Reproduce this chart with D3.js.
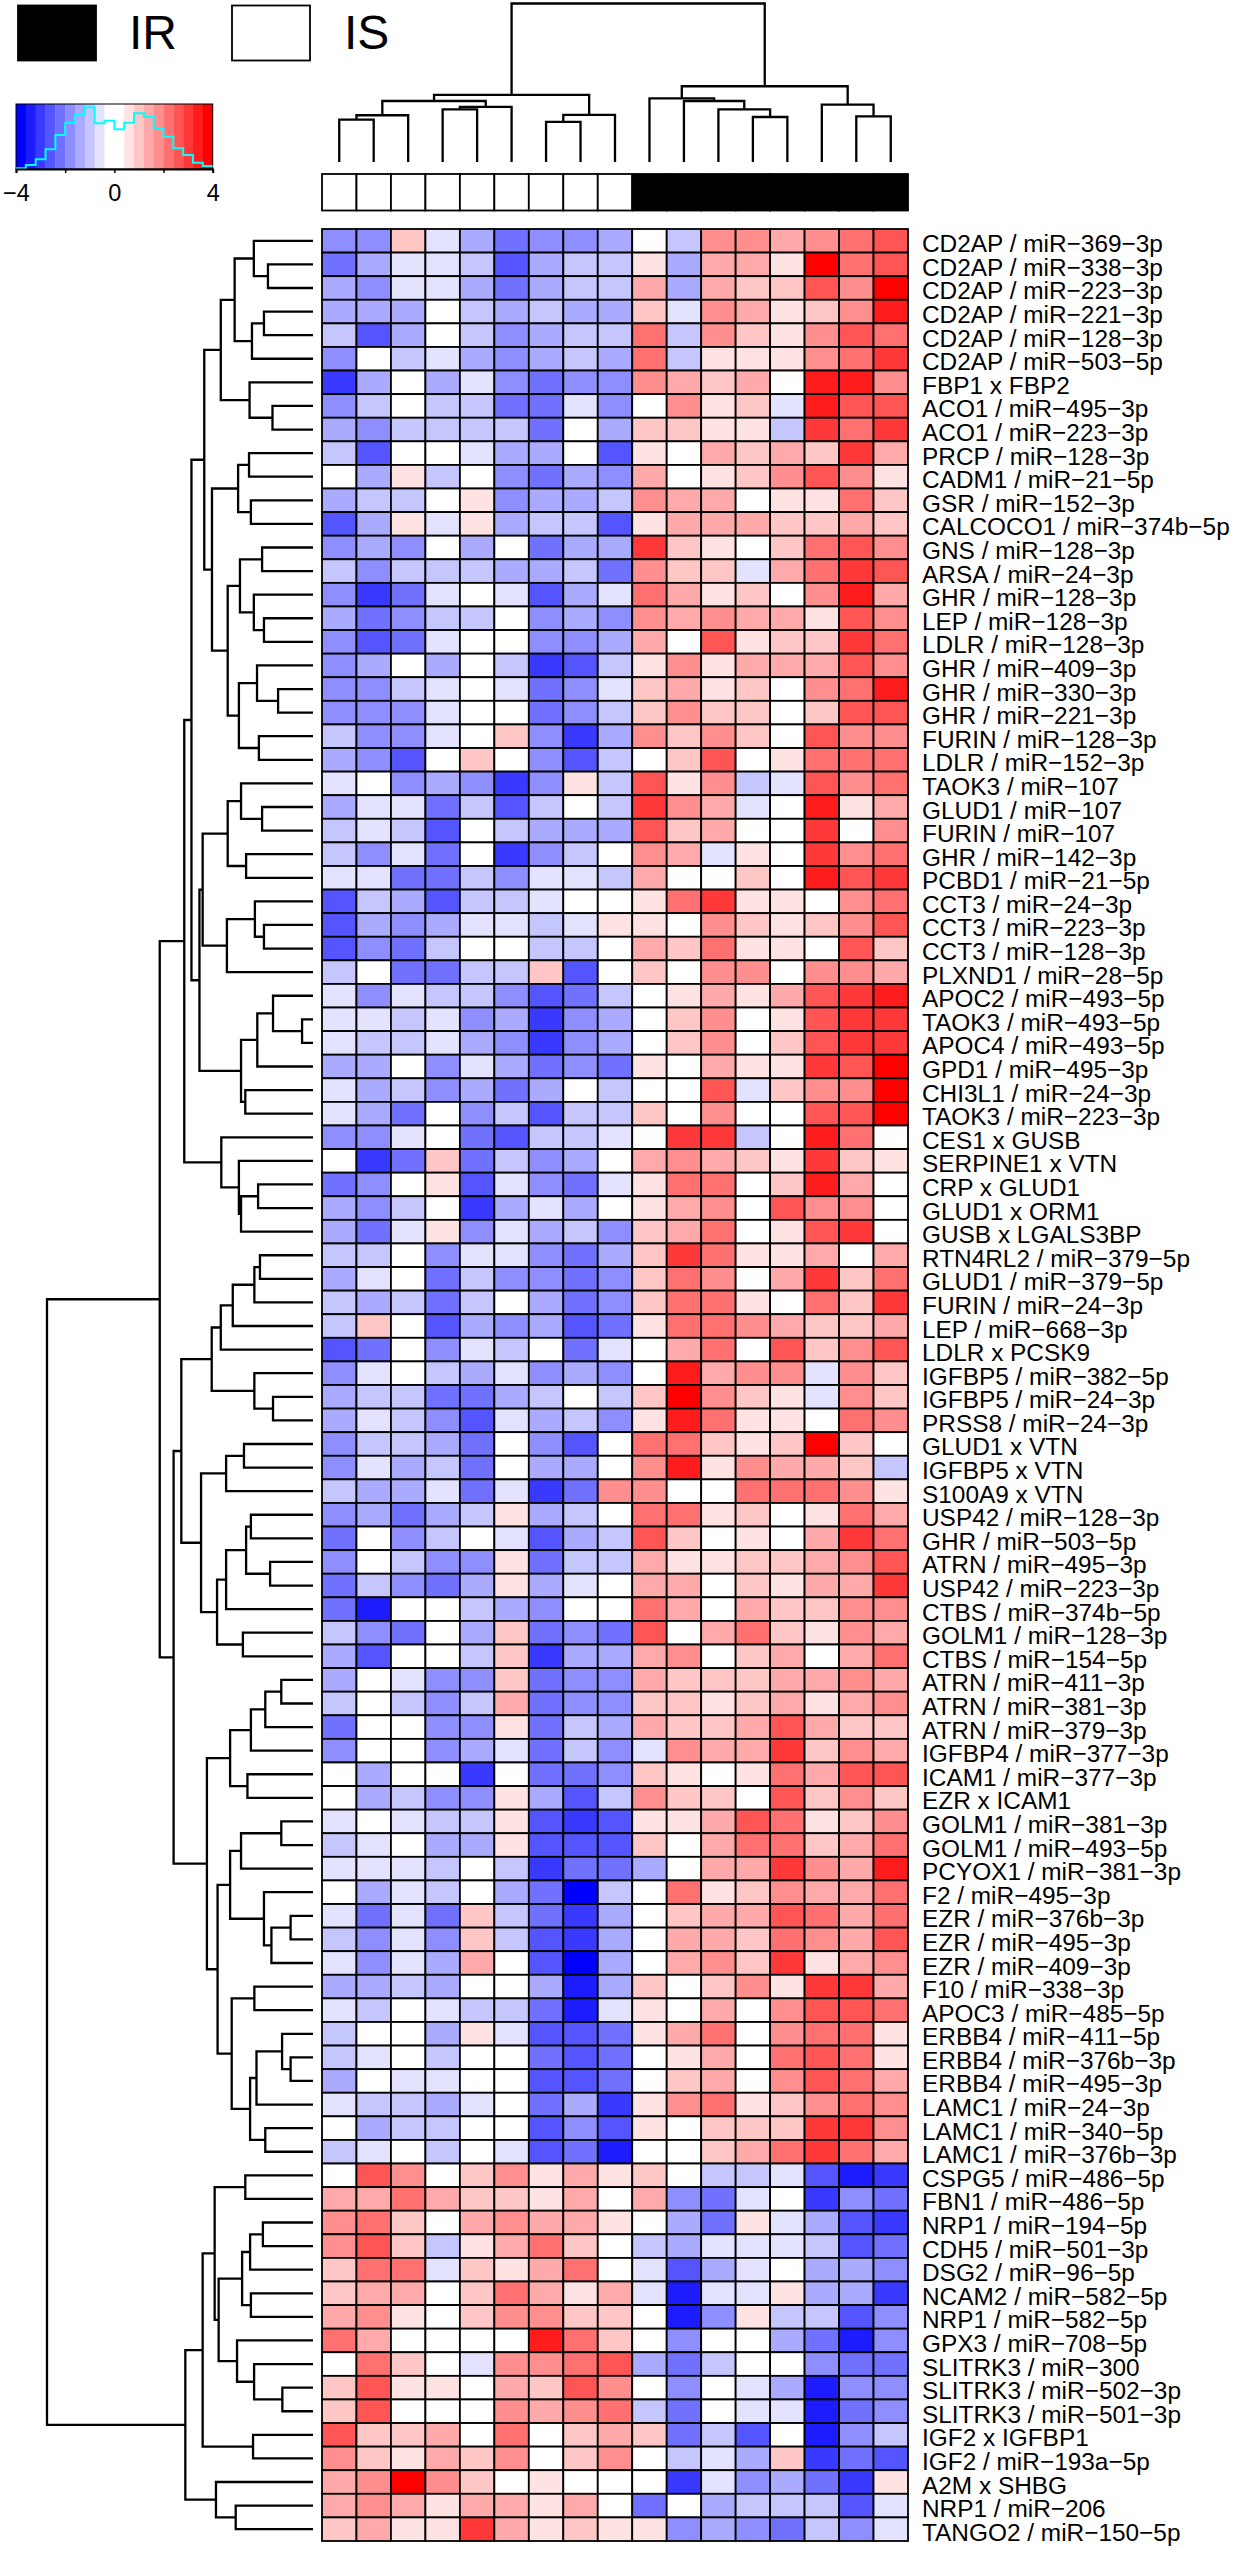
<!DOCTYPE html>
<html>
<head>
<meta charset="utf-8">
<script src="https://cdn.jsdelivr.net/npm/d3@7"></script>
<style>
  body { margin: 0; background: #fff; }
  text { font-family: "Liberation Sans", Arial, sans-serif; fill: #000; }
</style>
</head>
<body>
<svg id="chart" width="1234" height="2550"></svg>
<script>
// Row labels, top to bottom
const rowLabels = [
  "CD2AP / miR-369-3p", "CD2AP / miR-338-3p", "CD2AP / miR-223-3p", "CD2AP / miR-221-3p", "CD2AP / miR-128-3p",
  "CD2AP / miR-503-5p", "FBP1 x FBP2", "ACO1 / miR-495-3p", "ACO1 / miR-223-3p", "PRCP / miR-128-3p",
  "CADM1 / miR-21-5p", "GSR / miR-152-3p", "CALCOCO1 / miR-374b-5p", "GNS / miR-128-3p", "ARSA / miR-24-3p",
  "GHR / miR-128-3p", "LEP / miR-128-3p", "LDLR / miR-128-3p", "GHR / miR-409-3p", "GHR / miR-330-3p",
  "GHR / miR-221-3p", "FURIN / miR-128-3p", "LDLR / miR-152-3p", "TAOK3 / miR-107", "GLUD1 / miR-107",
  "FURIN / miR-107", "GHR / miR-142-3p", "PCBD1 / miR-21-5p", "CCT3 / miR-24-3p", "CCT3 / miR-223-3p",
  "CCT3 / miR-128-3p", "PLXND1 / miR-28-5p", "APOC2 / miR-493-5p", "TAOK3 / miR-493-5p", "APOC4 / miR-493-5p",
  "GPD1 / miR-495-3p", "CHI3L1 / miR-24-3p", "TAOK3 / miR-223-3p", "CES1 x GUSB", "SERPINE1 x VTN",
  "CRP x GLUD1", "GLUD1 x ORM1", "GUSB x LGALS3BP", "RTN4RL2 / miR-379-5p", "GLUD1 / miR-379-5p",
  "FURIN / miR-24-3p", "LEP / miR-668-3p", "LDLR x PCSK9", "IGFBP5 / miR-382-5p", "IGFBP5 / miR-24-3p",
  "PRSS8 / miR-24-3p", "GLUD1 x VTN", "IGFBP5 x VTN", "S100A9 x VTN", "USP42 / miR-128-3p",
  "GHR / miR-503-5p", "ATRN / miR-495-3p", "USP42 / miR-223-3p", "CTBS / miR-374b-5p", "GOLM1 / miR-128-3p",
  "CTBS / miR-154-5p", "ATRN / miR-411-3p", "ATRN / miR-381-3p", "ATRN / miR-379-3p", "IGFBP4 / miR-377-3p",
  "ICAM1 / miR-377-3p", "EZR x ICAM1", "GOLM1 / miR-381-3p", "GOLM1 / miR-493-5p", "PCYOX1 / miR-381-3p",
  "F2 / miR-495-3p", "EZR / miR-376b-3p", "EZR / miR-495-3p", "EZR / miR-409-3p", "F10 / miR-338-3p",
  "APOC3 / miR-485-5p", "ERBB4 / miR-411-5p", "ERBB4 / miR-376b-3p", "ERBB4 / miR-495-3p", "LAMC1 / miR-24-3p",
  "LAMC1 / miR-340-5p", "LAMC1 / miR-376b-3p", "CSPG5 / miR-486-5p", "FBN1 / miR-486-5p", "NRP1 / miR-194-5p",
  "CDH5 / miR-501-3p", "DSG2 / miR-96-5p", "NCAM2 / miR-582-5p", "NRP1 / miR-582-5p", "GPX3 / miR-708-5p",
  "SLITRK3 / miR-300", "SLITRK3 / miR-502-3p", "SLITRK3 / miR-501-3p", "IGF2 x IGFBP1", "IGF2 / miR-193a-5p",
  "A2M x SHBG", "NRP1 / miR-206", "TANGO2 / miR-150-5p"
];

// Sample group per column, left to right
const sampleGroups = ["IS", "IS", "IS", "IS", "IS", "IS", "IS", "IS", "IS", "IR", "IR", "IR", "IR", "IR", "IR", "IR", "IR"];

// Cell values as colour key bins (one bin = 0.4 on the key)
const heatLevels = [
  [-4,-4,2,-1,-3,-5,-4,-4,-3,0,-2,4,4,3,4,5,6],
  [-5,-3,-1,-1,-2,-6,-3,-2,-2,1,-3,3,3,1,9,5,6],
  [-3,-4,-1,-1,-3,-5,-3,-2,-2,3,-3,3,2,2,6,4,9],
  [-3,-3,-3,0,-2,-3,-2,-3,-3,2,-1,4,3,1,2,4,8],
  [-2,-6,-3,0,-2,-4,-3,-2,-2,5,-2,4,2,1,4,6,5],
  [-4,0,-2,-1,-3,-4,-3,-2,-3,5,-2,1,1,1,4,5,7],
  [-7,-3,0,-3,-1,-4,-5,-4,-4,4,3,2,3,0,8,8,4],
  [-4,-2,0,-2,-2,-5,-5,-1,-4,0,4,1,2,-1,8,6,6],
  [-3,-4,-2,-2,-2,-2,-5,0,-3,2,2,1,1,-2,7,5,7],
  [-2,-6,0,0,-1,-3,-3,0,-6,1,0,3,2,3,2,7,3],
  [0,-3,1,-2,0,-4,-5,-3,-4,3,0,1,2,4,6,4,1],
  [-3,-2,-2,0,1,-4,-3,-3,-2,4,3,3,0,1,1,5,2],
  [-6,-3,1,-1,1,-3,-2,-2,-6,1,3,3,3,2,2,3,2],
  [-4,-3,-4,0,-3,0,-5,-3,-3,7,2,1,0,2,5,6,4],
  [-2,-4,-2,-2,-2,-3,-3,-2,-5,4,2,2,-1,3,5,7,6],
  [-4,-7,-5,-1,0,-1,-6,-3,-1,5,3,1,2,0,4,8,3],
  [-3,-5,-4,-2,-2,0,-4,-3,-4,4,3,4,3,3,1,6,4],
  [-4,-6,-5,-1,0,0,-4,-4,-3,3,0,6,1,2,2,7,5],
  [-4,-3,0,-3,0,-2,-7,-6,-2,1,4,1,3,3,3,6,4],
  [-4,-4,-2,-1,0,-1,-5,-4,-1,2,3,1,2,0,4,5,8],
  [-4,-4,-4,-1,0,0,-5,-4,-2,2,4,2,2,0,2,6,6],
  [-2,-4,-4,-1,0,2,-4,-7,-3,4,2,4,2,0,6,4,4],
  [-3,-4,-6,0,2,0,-4,-6,-2,0,2,6,0,1,5,5,5],
  [-1,0,-4,-3,-4,-7,-4,1,-2,6,1,4,-2,-1,6,4,5],
  [-3,-1,-1,-5,-2,-6,-2,0,-2,7,4,3,-1,0,8,1,3],
  [-2,-1,-2,-6,0,-2,-3,-3,-3,6,2,3,0,0,7,0,4],
  [-2,-4,-1,-5,0,-7,-4,-2,0,4,3,-1,1,0,7,4,5],
  [-1,-1,-5,-5,-2,-4,-1,-1,-2,3,0,0,2,0,8,6,7],
  [-6,-2,-3,-6,-2,-2,-1,0,0,1,5,7,1,1,0,4,5],
  [-6,-3,-4,-3,-1,-1,-2,-1,1,1,0,4,2,1,2,4,6],
  [-6,-4,-5,-2,0,0,-2,-2,0,3,2,5,1,1,0,6,2],
  [-2,0,-5,-5,-2,-2,2,-6,0,2,0,4,4,0,4,4,3],
  [-1,-4,-1,-2,-2,-4,-6,-5,-2,0,1,3,1,3,6,7,8],
  [-1,-1,-2,-1,-4,-3,-7,-4,-3,0,2,4,0,1,6,7,7],
  [-1,-2,-2,-1,-3,-4,-7,-4,-3,0,2,4,0,2,6,7,7],
  [-3,-3,0,-4,-1,-3,-5,-4,-5,1,0,3,1,1,7,6,9],
  [-1,-3,-2,-4,-3,-5,-3,0,-2,0,0,6,-1,2,4,4,9],
  [-1,-3,-5,0,-4,-2,-6,-2,-2,2,0,4,0,0,6,6,9],
  [-4,-4,-1,0,-5,-6,-2,-2,-1,0,7,7,-2,0,8,5,0],
  [0,-7,-5,2,-5,-2,-4,-3,0,3,4,3,2,1,7,2,1],
  [-5,-4,0,1,-6,-1,-4,-5,-1,1,5,5,0,2,8,3,0],
  [-3,-4,-2,0,-7,-3,-1,-3,0,1,3,4,0,6,4,4,0],
  [-3,-5,-1,1,-4,-1,-3,-2,-4,2,3,5,0,1,6,7,0],
  [-2,-2,0,-4,-1,-1,-4,-5,-3,2,7,5,1,1,3,0,3],
  [-3,-1,0,-5,-2,-4,-4,-5,-4,2,5,4,0,3,7,2,5],
  [-2,-3,-2,-5,-2,0,-3,-5,-4,2,5,5,1,0,5,2,7],
  [-2,2,0,-6,-3,-4,-3,-6,-5,1,5,5,4,3,2,2,3],
  [-6,-5,0,-4,-1,-2,0,-5,-1,0,3,5,0,6,2,4,6],
  [-4,-1,0,-2,-3,-1,-4,-3,-4,0,8,3,4,4,-1,4,2],
  [-3,-2,-2,-5,-5,-3,-2,0,-2,2,9,4,2,1,-1,4,2],
  [-3,-1,-2,-4,-6,-1,-3,-2,-4,1,8,5,1,1,0,5,4],
  [-4,-2,-2,-3,-5,0,-4,-6,0,5,5,2,1,2,9,2,0],
  [-4,-1,-3,-2,-5,0,-3,-3,0,4,8,1,4,3,3,2,-2],
  [-2,-3,-3,-1,-5,-1,-7,-5,4,4,0,0,5,5,5,4,1],
  [-4,-3,-5,-3,-2,1,-3,-2,0,5,5,1,2,0,1,5,3],
  [-5,0,-4,-2,0,-1,-6,-3,-2,6,2,0,1,0,3,7,5],
  [-4,0,-2,-4,-4,1,-5,-2,-2,3,1,1,2,2,3,4,6],
  [-5,-2,-4,-5,-3,1,-3,-1,0,3,3,0,2,1,3,3,7],
  [-5,-8,0,0,-2,-3,-4,0,0,5,3,0,3,2,2,4,4],
  [-2,-4,-5,0,-3,2,-5,-4,-5,6,0,3,5,2,1,4,3],
  [-3,-6,0,0,-2,2,-7,-3,-3,3,4,0,2,3,0,3,5],
  [-3,0,-1,-4,-4,2,-5,-4,-4,3,2,2,2,3,3,4,3],
  [-2,0,-2,-4,-2,3,-5,-4,-4,2,2,1,2,3,1,3,4],
  [-5,0,0,-4,-4,1,-5,-2,-3,3,2,2,3,6,3,2,2],
  [-4,0,0,-4,-3,-1,-5,-2,-4,-1,4,3,3,7,2,4,3],
  [0,-3,0,0,-7,0,-5,-5,-4,2,1,0,1,5,3,6,6],
  [0,-3,-2,-4,-4,1,-3,-6,-2,4,2,2,0,6,2,4,2],
  [-1,0,-1,-2,-2,1,-6,-7,-6,1,1,3,6,5,1,2,4],
  [-2,-1,0,-3,-3,1,-6,-6,-6,2,0,3,5,5,2,3,5],
  [-1,-1,-1,-2,0,-2,-7,-5,-5,-3,0,3,3,7,4,3,8],
  [0,-3,-1,-2,0,-3,-5,-9,-2,0,5,1,2,4,3,3,5],
  [-1,-5,-1,-5,2,-2,-5,-7,-3,0,2,3,3,6,5,3,5],
  [-2,-4,-1,-4,2,-2,-6,-7,-3,0,3,3,2,5,4,3,6],
  [-1,-4,-1,-3,3,0,-6,-9,-3,0,3,4,2,7,1,3,4],
  [-3,-3,-2,-3,0,0,-3,-8,-3,2,0,2,4,1,7,7,3],
  [-1,-2,0,-1,-2,-2,-5,-8,-1,1,0,3,0,4,6,6,5],
  [-2,0,0,-3,1,-1,-6,-6,-5,1,3,5,0,4,5,5,1],
  [-2,-1,0,-2,0,0,-5,-6,-5,0,1,3,0,5,6,5,1],
  [-3,0,-1,-1,0,0,-6,-6,-5,0,2,3,0,4,6,5,3],
  [-1,-2,-2,-3,-1,0,-5,-3,-7,1,4,5,1,2,4,5,4],
  [0,-3,-2,-2,0,0,-6,-4,-6,1,0,2,2,2,7,7,4],
  [-2,-1,0,-2,0,-1,-6,-5,-8,0,0,2,3,5,7,5,3],
  [0,6,4,0,2,4,1,3,1,2,0,-2,-2,-1,-6,-8,-7],
  [3,3,5,3,2,2,1,3,0,3,-4,-5,-1,0,-7,-4,-5],
  [4,5,2,0,3,4,3,3,1,0,-3,-5,1,-1,-3,-6,-7],
  [4,6,2,-2,1,3,5,2,0,-2,-3,-1,-1,-1,-2,-6,-5],
  [2,5,5,-1,2,1,3,5,0,-1,-6,-3,-1,0,-3,-3,-4],
  [2,3,3,0,2,5,3,1,3,-1,-8,-1,-1,1,-3,-3,-7],
  [3,4,1,0,2,4,4,2,2,0,-8,-4,1,-2,-2,-6,-4],
  [5,3,0,0,0,0,8,5,2,0,-4,0,0,-3,-5,-8,-4],
  [0,5,2,0,-1,4,4,5,6,-3,-5,-2,0,0,-4,-5,-5],
  [2,6,1,1,0,3,2,6,4,0,-4,0,-1,-3,-8,-4,-4],
  [2,6,0,0,0,4,3,4,5,-2,-5,0,-1,-1,-8,-5,-4],
  [6,2,2,3,0,5,0,2,3,2,-5,-2,-6,0,-8,-4,-2],
  [4,2,1,3,2,4,0,2,4,0,-2,-1,-3,2,-7,-5,-6],
  [3,4,9,4,2,0,1,0,0,0,-7,-1,-4,-3,-5,-7,1],
  [3,4,3,1,3,3,1,3,0,-5,0,-3,-2,-2,-2,-6,-1],
  [2,3,1,1,7,3,1,2,1,1,-4,-3,-4,-5,-2,-4,-1]
];

// Row dendrogram: [height, left, right], a plain number is a row index
const rowTree = [9.98,
  [5.75,
    [4.83,
      [4.56,
        [4.08,
          [3.46,
            [2.94,
              [2.22, 0, [1.69, 1, 2]],
              [2.29, [1.84, 3, 4], 5]],
            [2.38, 6, [1.52, 7, 8]]],
          [3.79,
            [2.81, [2.40, 9, 10], [2.33, 11, 12]],
            [3.2,
              [2.74, [1.91, 13, 14], [2.22, 15, [1.84, 16, 17]]],
              [2.78, [2.10, 18, [1.31, 19, 20]], [2.03, 21, 22]]]]],
        [4.26,
          [4.14,
            [3.2, [2.70, 23, [1.91, 24, 25]], [2.51, 26, 27]],
            [3.23, [2.18, 28, [1.84, 29, 30]], 31]],
          [2.7, [2.09, [1.5, 32, [0.41, 33, 34]], 35], [2.54, 36, 37]]]],
      [3.44, 38, [2.78, 39, [2.7, [2.06, 40, 41], 42]]]],
    [5.23,
      [4.94,
        [3.8,
          [3.46, [3.01, [2.2, [1.99, 43, 44], 45], 46], 47],
          [2.2, 48, [1.5, 49, 50]]],
        [4.2,
          [3.26, [2.59, 51, 52], 53],
          [3.6,
            [3.26, [2.51, [2.33, 54, 55], [1.61, 56, 57]], 58],
            [2.63, 59, 60]]]],
      [3.98,
        [3.11, [2.33, [1.79, [1.19, 61, 62], 63], 64], [2.46, 65, 66]],
        [3.58,
          [3.11, [2.7, [1.19, 67, 68], 69], [1.84, 70, [1.56, [0.84, 71, 72], 73]]],
          [3.05,
            [2.2, 74, 75],
            [2.36, [2.12, [1.16, 76, [0.84, 77, 78]], 79], [1.79, 80, 81]]]]]]],
  [4.79,
    [4.14,
      [3.69,
        [2.54, 82, 83],
        [3.54,
          [2.66, [2.36, [1.88, 84, 85], 86], [2.33, 87, 88]],
          [2.85, 89, [2.21, 90, [1.15, 91, 92]]]]],
      [2.25, 93, 94]],
    [3.64, 95, [2.9, 96, 97]]]
];

// Column dendrogram, same form, a plain number is a column index
const colTree = [9.9,
  [4.19,
    [3.81,
      [2.92, [2.65, 0, 1], 2],
      [3.44, [3.29, 3, 4], 5]],
    [2.94, [2.5, 6, 7], 8]],
  [4.73,
    [3.98, 9, [3.81, 10, [3.29, 11, [2.81, 12, 13]]]],
    [3.58, 14, [2.85, 15, 16]]]
];

// Histogram in the colour key, one count per key bin (height)
const keyHistogram = [2, 12, 29, 59, 102, 139, 162, 185, 137, 145, 119, 139, 167, 157, 122, 97, 62, 42, 19, 9];
const keyTicks = [-4, -2, 0, 2, 4];
const keyLabels = [-4, 0, 4];
const legendGroups = ["IR", "IS"];

const binWidth = 0.4;
const keyBins = d3.range(-4, 4, binWidth).map((d) => +d.toFixed(1));

const svg = d3.select("#chart");
const colIndex = d3.range(sampleGroups.length);

const xCell = d3.scaleBand().domain(colIndex).range([322, 908]);
const yCell = d3.scaleBand().domain(rowLabels).range([229, 2541]);

// Blue-white-red, 9 steps each side of white
const color = d3.scaleLinear().domain([-3.6, 0, 3.6]).range(["#0000ff", "#ffffff", "#ff0000"]);
const groupColor = d3.scaleOrdinal().domain(legendGroups).range(["#000000", "#ffffff"]);

// Heatmap cells
const rows = svg.append("g").selectAll("g")
  .data(heatLevels)
  .join("g")
  .attr("transform", (d, i) => `translate(0,${yCell(rowLabels[i])})`);

rows.selectAll("rect")
  .data((d) => d)
  .join("rect")
  .attr("x", (d, i) => xCell(i))
  .attr("width", xCell.bandwidth())
  .attr("height", yCell.bandwidth())
  .attr("fill", (d) => color(d * binWidth))
  .attr("stroke", "#000")
  .attr("stroke-width", 1.8);

// Row labels, R draws hyphens as minus signs
const rowAxis = d3.axisRight(yCell).tickSize(0).tickPadding(0)
  .tickFormat((d) => d.replace(/-/g, "\u2212"));
svg.append("g")
  .attr("transform", "translate(922,0)")
  .call(rowAxis)
  .call((g) => g.select(".domain").remove())
  .call((g) => g.selectAll("text")
    .attr("font-family", null)
    .attr("font-size", 24.4)
    .attr("dy", 11.5));

// Sample group bar
svg.append("g").selectAll("rect")
  .data(sampleGroups)
  .join("rect")
  .attr("x", (d, i) => xCell(i))
  .attr("y", 174)
  .attr("width", xCell.bandwidth())
  .attr("height", 36.5)
  .attr("fill", (d) => groupColor(d))
  .attr("stroke", "#000")
  .attr("stroke-width", 1.8);

// Draw a dendrogram from its nested form
function draw_tree(tree, leaf_pos, height_scale, make_path) {
  const paths = [];
  const walk = (node) => {
    if (typeof node === "number") return { pos: leaf_pos(node), h: height_scale(0) };
    const a = walk(node[1]);
    const b = walk(node[2]);
    const h = height_scale(node[0]);
    paths.push(make_path(a, b, h));
    return { pos: (a.pos + b.pos) / 2, h: h };
  };
  walk(tree);
  svg.append("g").selectAll("path")
    .data(paths)
    .join("path")
    .attr("d", (d) => d)
    .attr("fill", "none")
    .attr("stroke", "#000")
    .attr("stroke-width", 2.3);
}

const rowHeight = d3.scaleLinear().domain([0, 9.98]).range([313, 47]);
const colHeight = d3.scaleLinear().domain([0, 9.9]).range([162, 3.5]);

draw_tree(rowTree,
  (i) => yCell(rowLabels[i]) + yCell.bandwidth() / 2,
  rowHeight,
  (a, b, x) => `M${a.h},${a.pos}H${x}V${b.pos}H${b.h}`);

draw_tree(colTree,
  (i) => xCell(i) + xCell.bandwidth() / 2,
  colHeight,
  (a, b, y) => `M${a.pos},${a.h}V${y}H${b.pos}V${b.h}`);

// Group legend
const legendBox = d3.scaleOrdinal().domain(legendGroups).range([18, 232]);
const legendText = d3.scaleOrdinal().domain(legendGroups).range([129, 344]);

svg.append("g").selectAll("rect")
  .data(legendGroups)
  .join("rect")
  .attr("x", (d) => legendBox(d))
  .attr("y", 5.5)
  .attr("width", 78)
  .attr("height", 55)
  .attr("fill", (d) => groupColor(d))
  .attr("stroke", "#000")
  .attr("stroke-width", 1.8);

svg.append("g").selectAll("text")
  .data(legendGroups)
  .join("text")
  .attr("x", (d) => legendText(d))
  .attr("y", 49)
  .attr("font-size", 48)
  .text((d) => d);

// Colour key
const xKey = d3.scaleLinear().domain([-4, 4]).range([16, 212.7]);
const yKey = d3.scaleLinear().domain([0, 185]).range([169, 107.3]);

svg.append("g").selectAll("rect")
  .data(keyBins)
  .join("rect")
  .attr("x", (d) => xKey(d))
  .attr("y", 104)
  .attr("width", xKey(binWidth) - xKey(0) + 0.3)
  .attr("height", 65)
  .attr("fill", (d) => color(d < 0 ? d + binWidth : d));

svg.append("rect")
  .attr("x", xKey(-4))
  .attr("y", 104)
  .attr("width", xKey(4) - xKey(-4))
  .attr("height", 65)
  .attr("fill", "none")
  .attr("stroke", "#000")
  .attr("stroke-width", 1);

const histLine = d3.line()
  .x((d) => xKey(d[0]))
  .y((d) => yKey(d[1]))
  .curve(d3.curveStepAfter);

svg.append("path")
  .datum(keyBins.map((d, i) => [d, keyHistogram[i]]).concat([[4, keyHistogram[keyHistogram.length - 1]]]))
  .attr("d", histLine)
  .attr("fill", "none")
  .attr("stroke", "#00ffff")
  .attr("stroke-width", 2);

const keyAxis = d3.axisBottom(xKey)
  .tickValues(keyTicks)
  .tickSize(4)
  .tickPadding(11)
  .tickFormat((d) => keyLabels.includes(d) ? String(d).replace("-", "\u2212") : "");

svg.append("g")
  .attr("transform", "translate(0,169)")
  .call(keyAxis)
  .call((g) => g.select(".domain").attr("stroke-width", 2))
  .call((g) => g.selectAll("line").attr("stroke-width", 1.5))
  .call((g) => g.selectAll("text").attr("font-family", null).attr("font-size", 23.5));
</script>
</body>
</html>
